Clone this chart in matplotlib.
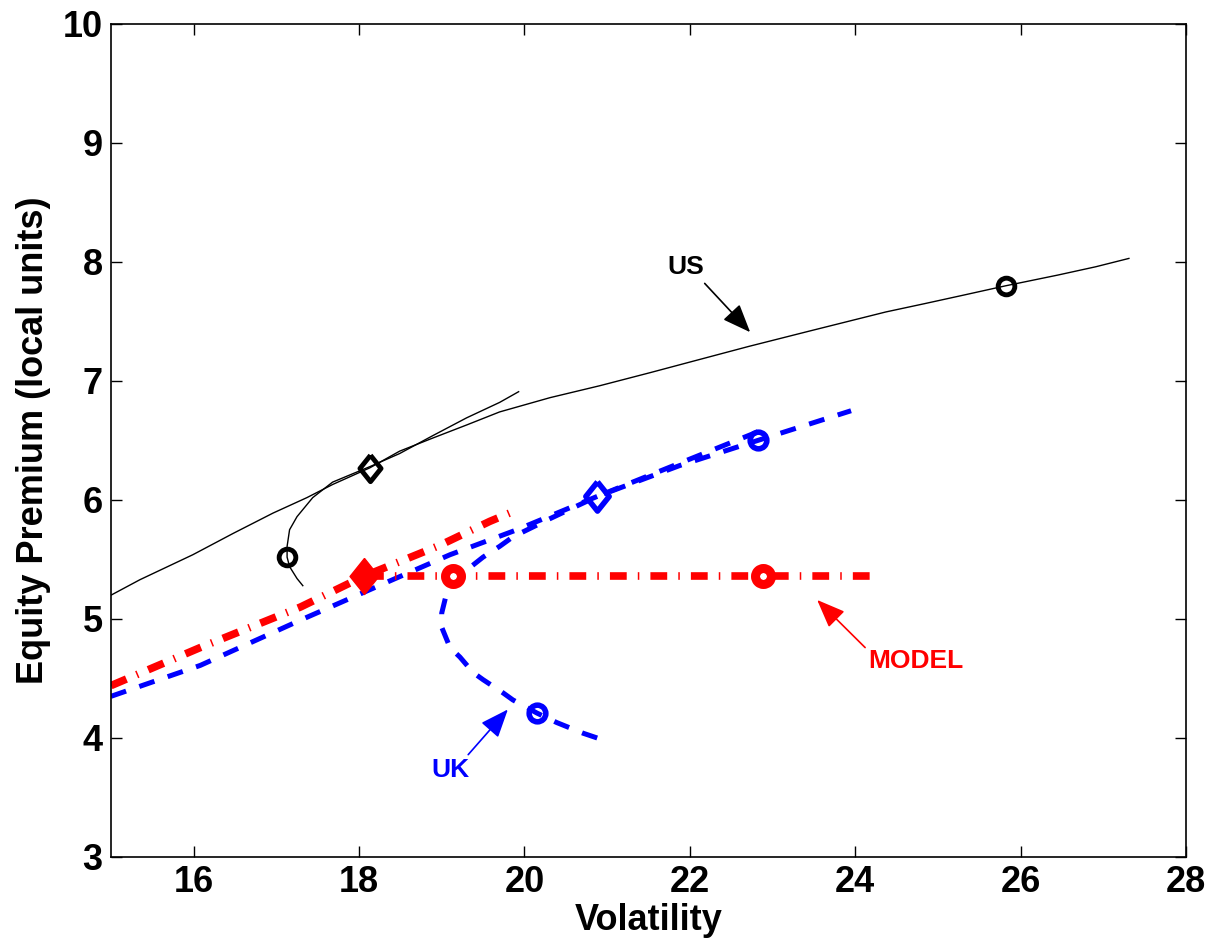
import matplotlib
matplotlib.use("Agg")
import matplotlib.pyplot as plt

plt.rcParams['font.family'] = ['Liberation Sans', 'DejaVu Sans']
plt.rcParams['font.weight'] = 'bold'

# US frontier (long) and the short US curve
us_x = [15.0, 15.35, 15.99, 16.48, 16.96, 17.37, 17.68, 18.13, 18.49, 18.89, 19.30, 19.70,
        20.31, 20.91, 21.52, 22.06, 22.71, 23.45, 23.91, 24.37, 24.84, 25.30, 25.82, 26.45,
        26.91, 27.31]
us_y = [5.20, 5.33, 5.54, 5.72, 5.89, 6.02, 6.13, 6.27, 6.41, 6.52, 6.63, 6.74,
        6.86, 6.96, 7.07, 7.17, 7.29, 7.42, 7.50, 7.58, 7.65, 7.72, 7.80, 7.89,
        7.96, 8.03]
us2_x = [17.32, 17.25, 17.16, 17.13, 17.13, 17.16, 17.25, 17.44, 17.68, 18.13, 18.49, 18.89,
         19.30, 19.70, 19.93]
us2_y = [5.28, 5.34, 5.44, 5.52, 5.61, 5.75, 5.86, 6.02, 6.15, 6.28, 6.39, 6.54,
         6.69, 6.82, 6.91]

# UK frontier (long) and the short UK curve
uk_x = [15.0, 16.08, 17.29, 18.34, 19.10, 19.91, 20.88, 21.88, 22.82, 23.95]
uk_y = [4.35, 4.61, 4.99, 5.31, 5.54, 5.75, 6.03, 6.29, 6.50, 6.75]
uk2_x = [20.88, 20.71, 20.39, 20.15, 19.86, 19.74, 19.50, 19.38, 19.22, 19.10, 19.00, 19.00,
         19.06, 19.14, 19.30, 19.50, 19.70, 19.86, 20.30, 20.88, 21.88, 22.92]
uk2_y = [4.00, 4.04, 4.13, 4.21, 4.32, 4.38, 4.49, 4.55, 4.68, 4.76, 4.93, 5.05,
         5.22, 5.30, 5.41, 5.52, 5.61, 5.69, 5.84, 6.03, 6.31, 6.60]

# model lines
model_x = [15.0, 16.08, 17.29, 18.06, 18.98, 19.58, 19.82]
model_y = [4.44, 4.76, 5.10, 5.36, 5.62, 5.82, 5.89]
model_h_x = [18.1, 24.2]
model_h_y = [5.36, 5.36]

# markers
us_circ = [(25.82, 7.80), (17.13, 5.52)]
us_diam = (18.13, 6.27)
uk_circ = [(22.82, 6.50), (20.15, 4.21)]
uk_diam = (20.88, 6.03)
model_circ = [(19.14, 5.36), (22.88, 5.36)]
model_diam = (18.06, 5.36)

diamond = [(0, 1), (0.8, 0), (0, -1), (-0.8, 0), (0, 1)]

fig = plt.figure(figsize=(12.18, 9.48), dpi=100)
ax = fig.add_axes([0.0911, 0.096, 0.8826, 0.8787])

# US
ax.plot(us_x, us_y, color='black', lw=1.0)
ax.plot(us2_x, us2_y, color='black', lw=1.0)
for cx, cy in us_circ:
    ax.plot(cx, cy, 'o', ms=12, mfc='none', mec='black', mew=3.5)
ax.plot(*us_diam, marker=diamond, ms=19, mfc='none', mec='black', mew=3.5)

# UK
uk_ls = (0, (3.2, 2.8))
ax.plot(uk_x, uk_y, color='blue', lw=3.6, ls=uk_ls)
ax.plot(uk2_x, uk2_y, color='blue', lw=3.6, ls=uk_ls)
for cx, cy in uk_circ:
    ax.plot(cx, cy, 'o', ms=12, mfc='none', mec='blue', mew=4.0)
ax.plot(*uk_diam, marker=diamond, ms=21, mfc='none', mec='blue', mew=4.0)

# MODEL
md_ls = (0, (2.2, 1.45, 0.2, 1.45))
ax.plot(model_x, model_y, color='red', lw=5.5, ls=md_ls, dash_capstyle='butt')
ax.plot(model_h_x, model_h_y, color='red', lw=5.5, ls=md_ls, dash_capstyle='butt')
for cx, cy in model_circ:
    ax.plot(cx, cy, 'o', ms=11.5, mfc='white', mec='red', mew=6.5)
ax.plot(*model_diam, marker=diamond, ms=26, mfc='red', mec='red', mew=1)

# annotations
arrow = '-|>,head_length=0.7,head_width=0.28'
labels = [('US', 'black', (21.95, 7.96), (22.18, 7.82), (22.73, 7.41)),
          ('UK', 'blue', (19.10, 3.73), (19.32, 3.86), (19.80, 4.24)),
          ('MODEL', 'red', (24.73, 4.65), (24.12, 4.76), (23.54, 5.16))]
for txt, col, pos, tail, tip in labels:
    ax.text(pos[0], pos[1], txt, color=col, fontsize=19, fontweight='bold',
            ha='center', va='center')
    ax.annotate('', xy=tip, xytext=tail,
                arrowprops=dict(arrowstyle=arrow, color=col, lw=1.2, mutation_scale=25,
                                shrinkA=0, shrinkB=0))

ax.set_xlim(15, 28)
ax.set_ylim(3, 10)
ax.set_xticks([16, 18, 20, 22, 24, 26, 28])
ax.set_yticks([3, 4, 5, 6, 7, 8, 9, 10])
ax.tick_params(direction='in', length=8, width=1, top=True, right=True,
               labelsize=26, pad=6)
for lab in ax.get_xticklabels() + ax.get_yticklabels():
    lab.set_fontweight('bold')
for sp in ax.spines.values():
    sp.set_linewidth(1.2)

ax.set_xlabel('Volatility', fontsize=26, fontweight='bold', labelpad=2)
ax.set_ylabel('Equity Premium (local units)', fontsize=26, fontweight='bold', labelpad=8)

fig.savefig('out.png', dpi=100)
